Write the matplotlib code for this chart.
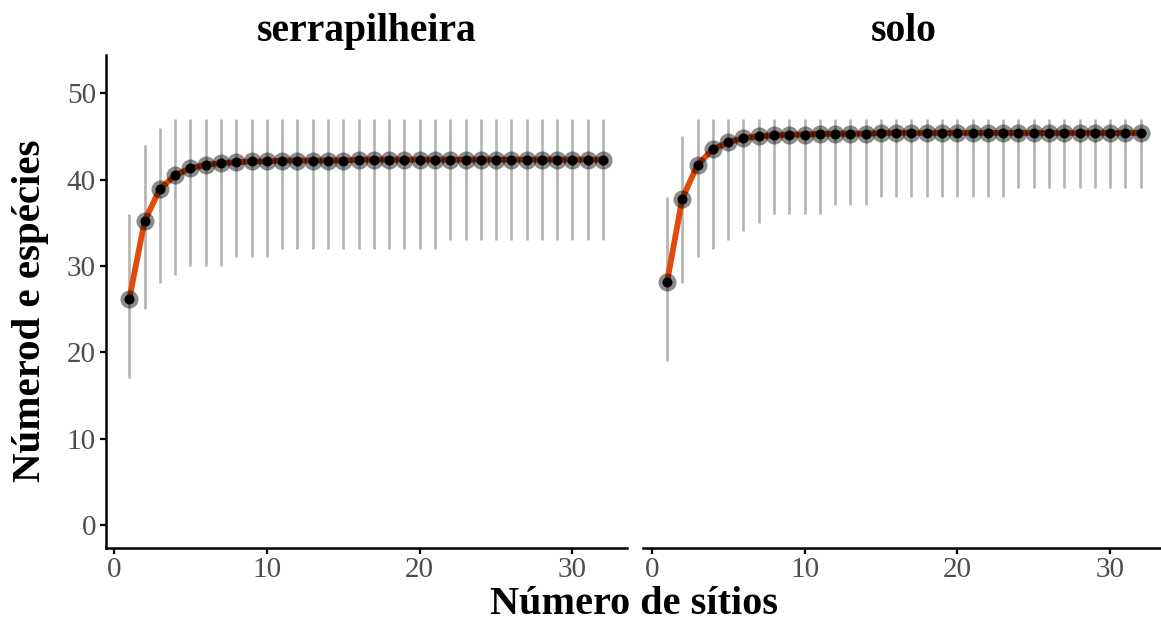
import matplotlib
matplotlib.use("Agg")
from matplotlib import pyplot as plt

# number of sites sampled
sites = list(range(1, 33))

# serrapilheira
serr_mean = [26.2, 35.2, 38.9, 40.5, 41.3, 41.7, 41.9, 42.0, 42.1, 42.1,
             42.2, 42.2, 42.2, 42.2, 42.2, 42.3, 42.3, 42.3, 42.3, 42.3,
             42.3, 42.3, 42.3, 42.3, 42.3, 42.3, 42.3, 42.3, 42.3, 42.3,
             42.3, 42.3]
serr_low = [17, 25, 28, 29, 30, 30, 30, 31, 31, 31,
            32, 32, 32, 32, 32, 32, 32, 32, 32, 32,
            32, 33, 33, 33, 33, 33, 33, 33, 33, 33,
            33, 33]
serr_high = [36, 44, 46] + [47] * 29

# solo
solo_mean = [28.1, 37.8, 41.7, 43.5, 44.3, 44.8, 45.0, 45.1, 45.2, 45.2,
             45.3, 45.3, 45.3, 45.3, 45.4, 45.4, 45.4, 45.4, 45.4, 45.4,
             45.4, 45.4, 45.4, 45.4, 45.4, 45.4, 45.4, 45.4, 45.4, 45.4,
             45.4, 45.4]
solo_low = [19, 28, 31, 32, 33, 34, 35, 36, 36, 36,
            36, 37, 37, 37, 38, 38, 38, 38, 38, 38,
            38, 38, 38, 39, 39, 39, 39, 39, 39, 39,
            39, 39]
solo_high = [38, 45] + [47] * 30

panels = [("serrapilheira", serr_mean, serr_low, serr_high),
          ("solo", solo_mean, solo_low, solo_high)]

plt.rcParams['font.family'] = ['Liberation Serif', 'DejaVu Serif']

fig = plt.figure(figsize=(11.61, 6.30), dpi=100)
ax_w = 0.4488
ax_b = 0.1306
ax_h = 0.782
lefts = [0.0910, 0.5541]

for i, (title, mean, low, high) in enumerate(panels):
    ax = fig.add_axes([lefts[i], ax_b, ax_w, ax_h])
    ax.vlines(sites, low, high, color="#b3b3b3", lw=1.9, zorder=1)
    ax.plot(sites, mean, color="#e04a0c", lw=4.2, zorder=2,
            solid_capstyle="round")
    ax.plot(sites, mean, "o", color="black", alpha=0.45, ms=13,
            mec="none", zorder=3)
    ax.plot(sites, mean, "o", color="black", ms=7.2, mec="none", zorder=4)

    ax.set_xlim(-0.55, 33.55)
    ax.set_ylim(-2.6, 54.4)
    ax.set_xticks([0, 10, 20, 30])
    ax.set_yticks([0, 10, 20, 30, 40, 50])
    ax.set_title(title, fontsize=28.5, fontweight="bold", pad=10)

    for s in ["top", "right"]:
        ax.spines[s].set_visible(False)
    ax.spines["bottom"].set_linewidth(1.8)
    ax.spines["left"].set_linewidth(1.8)
    ax.tick_params(axis="both", length=4, width=1.6, colors="black",
                   labelcolor="#4d4d4d", labelsize=21, pad=3)
    if i == 1:
        ax.spines["left"].set_visible(False)
        ax.tick_params(axis="y", left=False, labelleft=False)

fig.text(0.5465, 0.04, "Número de sítios", ha="center", va="center",
         fontsize=29, fontweight="bold")
fig.text(0.026, 0.506, "Númerod e espécies", ha="center", va="center",
         rotation=90, fontsize=29.5, fontweight="bold")

plt.savefig("out.png", dpi=100)
